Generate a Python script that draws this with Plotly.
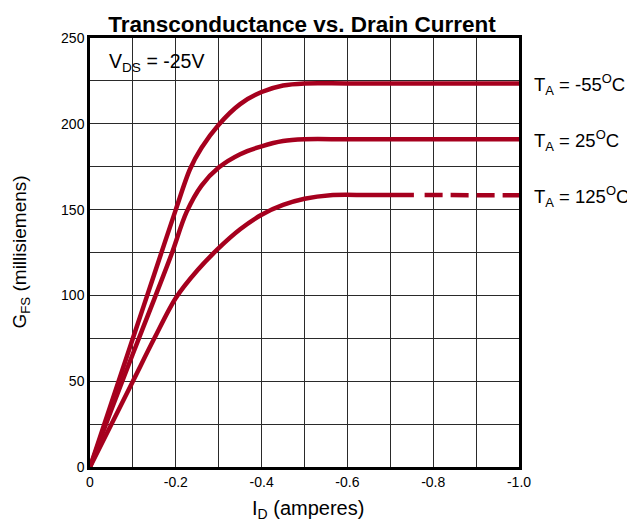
import plotly.graph_objects as go

# Drain current (A) and transconductance (mS)
id_m55 = [0, -0.05, -0.1, -0.15, -0.2, -0.233, -0.26, -0.3, -0.35, -0.4, -0.45, -0.5, -0.6, -0.8, -1.0]
gfs_m55 = [0, 37.5, 75, 112.5, 150, 173.5, 186, 199.5, 211.5, 218.5, 222.3, 223.5, 223.5, 223.5, 223.5]

id_25 = [0, -0.05, -0.1, -0.15, -0.19, -0.225, -0.26, -0.3, -0.35, -0.4, -0.45, -0.5, -0.6, -0.8, -1.0]
gfs_25 = [0, 33.5, 66, 98, 124, 148.5, 164, 174.5, 182.3, 186.9, 190, 191, 191, 191, 191]

id_125 = [0, -0.1, -0.15, -0.2, -0.25, -0.3, -0.35, -0.4, -0.45, -0.5, -0.56, -0.65, -0.755]
gfs_125 = [0, 50, 75, 98.5, 114.5, 127.5, 138.5, 147, 152.7, 156.3, 158.4, 158.5, 158.5]
id_125_dash = [-0.78, -1.0]
gfs_125_dash = [158.5, 158.3]

x_tickvals = [0, -0.2, -0.4, -0.6, -0.8, -1.0]
x_ticktext = ["0", "-0.2", "-0.4", "-0.6", "-0.8", "-1.0"]
y_tickvals = [0, 50, 100, 150, 200, 250]

labels = ["T<sub>A</sub> = -55<sup>O</sup>C", "T<sub>A</sub> = 25<sup>O</sup>C", "T<sub>A</sub> = 125<sup>O</sup>C"]
label_y = [223.5, 191, 158.5]

RED = "#A6001E"
GRID = "#2a2a2a"
FONT = "Liberation Sans, Arial, sans-serif"

fig = go.Figure()
for xs, ys in [(id_m55, gfs_m55), (id_25, gfs_25), (id_125, gfs_125)]:
    fig.add_trace(go.Scatter(x=xs, y=ys, mode="lines",
                             line=dict(color=RED, width=4.5, shape="spline", smoothing=0.9),
                             showlegend=False, hoverinfo="skip"))
fig.add_trace(go.Scatter(x=id_125_dash, y=gfs_125_dash, mode="lines",
                         line=dict(color=RED, width=4.5, dash="18px,8px"),
                         showlegend=False, hoverinfo="skip"))

for t, yv in zip(labels, label_y):
    fig.add_annotation(x=1.03, xref="paper", y=yv, yref="y", text=t, showarrow=False,
                       xanchor="left", yanchor="middle", yshift=-1,
                       font=dict(size=18.5, color="black", family=FONT))

fig.add_annotation(x=-0.04, y=236, xref="x", yref="y", text="V<sub>DS</sub> = -25V", showarrow=False,
                   xanchor="left", yanchor="middle", font=dict(size=19.5, color="black", family=FONT))

# axis titles
fig.add_annotation(x=0.507, y=-0.1, xref="paper", yref="paper", text="I<sub>D</sub> (amperes)",
                   showarrow=False, xanchor="center", yanchor="middle",
                   font=dict(size=20, color="black", family=FONT))
fig.add_annotation(x=-0.163, y=0.5, xref="paper", yref="paper", text="G<sub>FS</sub> (millisiemens)",
                   showarrow=False, xanchor="center", yanchor="middle", textangle=-90,
                   font=dict(size=19, color="black", family=FONT))

fig.update_layout(
    width=627, height=516,
    margin=dict(l=82, r=116, t=30, b=57),
    paper_bgcolor="white", plot_bgcolor="white",
    font=dict(family=FONT, color="black", size=13),
    title=dict(text="<b>Transconductance vs. Drain Current</b>", x=0.469, xanchor="center",
               y=0.969, yanchor="middle", font=dict(size=22.5, family=FONT, color="black")),
)
fig.update_xaxes(range=[0, -1.0], autorange=False, tickvals=x_tickvals, ticktext=x_ticktext,
                 showgrid=True, gridcolor=GRID, gridwidth=1,
                 minor=dict(dtick=0.1, tick0=0, showgrid=True, gridcolor=GRID, gridwidth=1),
                 showline=True, linecolor="black", linewidth=2.5, mirror=True, zeroline=False,
                 ticks="", tickfont=dict(size=14))
fig.update_yaxes(range=[0, 250], autorange=False, tickvals=y_tickvals,
                 showgrid=True, gridcolor=GRID, gridwidth=1,
                 minor=dict(dtick=25, tick0=0, showgrid=True, gridcolor=GRID, gridwidth=1),
                 showline=True, linecolor="black", linewidth=2.5, mirror=True, zeroline=False,
                 ticks="", tickfont=dict(size=14))

fig.write_html("out.html")
